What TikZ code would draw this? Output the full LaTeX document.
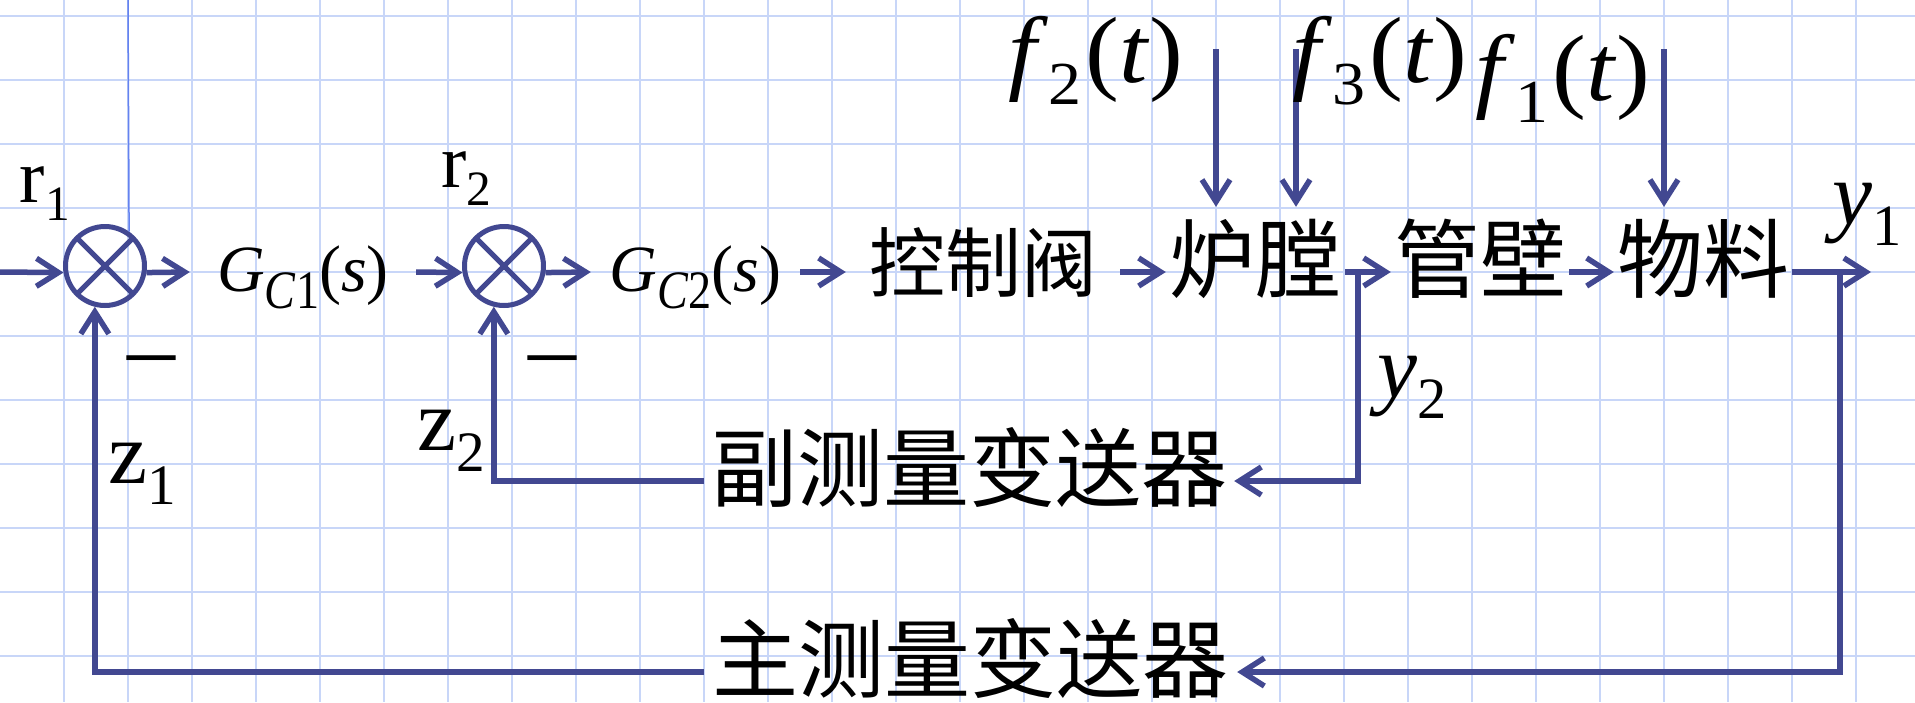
\documentclass[tikz,border=0pt]{standalone}
\usepackage{fontspec}
\setmainfont{Liberation Serif}
\newfontfamily\cjk{Noto Sans CJK SC}
\usetikzlibrary{arrows.meta}

\definecolor{linkblue}{RGB}{66,72,145}
\definecolor{gridblue}{RGB}{200,214,248}
\definecolor{guideblue}{RGB}{100,130,240}

\newcommand{\lo}[1]{\raisebox{-0.24em}{\scalebox{0.65}{#1}}}
\newcommand{\glo}[1]{\raisebox{-0.26em}{\scalebox{0.7}[0.82]{#1}}}
\newcommand{\fs}[1]{\fontsize{#1}{#1}\selectfont}
\newcommand{\ft}[1]{\scalebox{1.08}[1]{\textit{f}\lo{#1}\hspace{0.04em}(\textit{t})}}

\tikzset{
  sig/.style={line width=5.5pt, draw=linkblue, -{Straight Barb[length=22pt,width=28pt]}},
  blk/.style={inner sep=0pt, text height=84pt, text depth=46pt, font=\cjk\fs{86pt}},
  lbl/.style={inner sep=0pt, anchor=base},
  sumj/.style={circle, draw=linkblue, line width=5pt, minimum size=79pt, inner sep=0pt,
    path picture={\draw[linkblue, line width=5pt]
      (path picture bounding box.north west) -- (path picture bounding box.south east)
      (path picture bounding box.south west) -- (path picture bounding box.north east);}}
}

\begin{document}
\begin{tikzpicture}[x=1pt, y=-1pt]
  \fill[white] (0,0) rectangle (1915,702);
  \useasboundingbox (0,0) rectangle (1915,702);
  % grid
  \foreach \i in {1,...,29}
    \draw[gridblue, line width=2pt] (64*\i,0) -- (64*\i,702);
  \foreach \j in {0,...,10}
    \draw[gridblue, line width=2pt] (0,16+64*\j) -- (1915,16+64*\j);

  % summing points and blocks
  \node[sumj] (sum1) at (105,266) {};
  \node[sumj] (sum2) at (504,266) {};
  \node[blk, font=\fs{66pt}, minimum width=226pt] (gc1) at (303,272) {\textit{G}\glo{\textit{C}1}(\textit{s})};
  \node[blk, font=\fs{66pt}, minimum width=209pt] (gc2) at (695.5,272) {\textit{G}\glo{\textit{C}2}(\textit{s})};
  \node[blk, font=\cjk\fs{76pt}, minimum width=274pt] (valve) at (983,272) {控制阀};
  \node[blk, minimum width=179pt] (furn) at (1255.5,272) {炉膛};
  \node[blk, minimum width=178pt] (wall) at (1480,272) {管壁};
  \node[blk, minimum width=178pt] (mat) at (1703,272) {物料};
  \node[blk, minimum width=530pt] (secfb) at (969,481) {副测量变送器};
  \node[blk, minimum width=533pt] (mainfb) at (970.5,672) {主测量变送器};

  \coordinate (in) at (0,272);
  \coordinate (out) at (1871,272);
  \coordinate (tap1) at (1840,272);
  \coordinate (tap2) at (1358,272);
  \coordinate (d1) at (1664,49);
  \coordinate (d2) at (1216,49);
  \coordinate (d3) at (1296,49);
  \coordinate (gtop) at (128,0);

  % forward path
  \draw[sig] (in) -- (sum1.189);
  \draw[sig] (sum1.-9) -- (gc1.west);
  \draw[sig] (gc1.east) -- (sum2.189);
  \draw[sig] (sum2.-9) -- (gc2.west);
  \draw[sig] (gc2.east) -- (valve.west);
  \draw[sig] (valve.east) -- (furn.west);
  \draw[sig] (furn.east) -- (wall.west);
  \draw[sig] (wall.east) -- (mat.west);
  \draw[sig] (mat.east) -- (out);

  % disturbances
  \draw[sig] (d2) -- (d2 |- furn.north);
  \draw[sig] (d3) -- (d3 |- furn.north);
  \draw[sig] (d1) -- (d1 |- mat.north);

  % feedback loops
  \draw[sig] (tap2) |- (secfb.east);
  \draw[sig] (secfb.west) -| (sum2.256);
  \draw[sig] (tap1) |- (mainfb.east);
  \draw[sig] (mainfb.west) -| (sum1.256);

  \draw[guideblue, line width=1.5pt] (gtop) -- (sum1.55);

  % labels
  \node[lbl, font=\fs{76pt}] (r1) at (45,202) {r\lo{1}};
  \node[lbl, font=\fs{76pt}] (r2) at (466,187) {r\lo{2}};
  \node[lbl, font=\fs{88pt}] (z1) at (142,483) {z\lo{1}};
  \node[lbl, font=\fs{88pt}] (z2) at (451,450) {z\lo{2}};
  \node[lbl, font=\fs{96pt}] (neg1) at (151,380) {\textendash};
  \node[lbl, font=\fs{96pt}] (neg2) at (552,380) {\textendash};
  \node[lbl, font=\fs{94pt}] (f2) at (1096,82) {\ft{2}};
  \node[lbl, font=\fs{94pt}] (f3) at (1380,82) {\ft{3}};
  \node[lbl, font=\fs{94pt}] (f1) at (1563,100) {\ft{1}};
  \node[lbl, font=\fs{90pt}] (y1) at (1867,224) {\textit{y}\lo{1}};
  \node[lbl, font=\fs{90pt}] (y2) at (1412,397) {\textit{y}\lo{2}};
\end{tikzpicture}
\end{document}
